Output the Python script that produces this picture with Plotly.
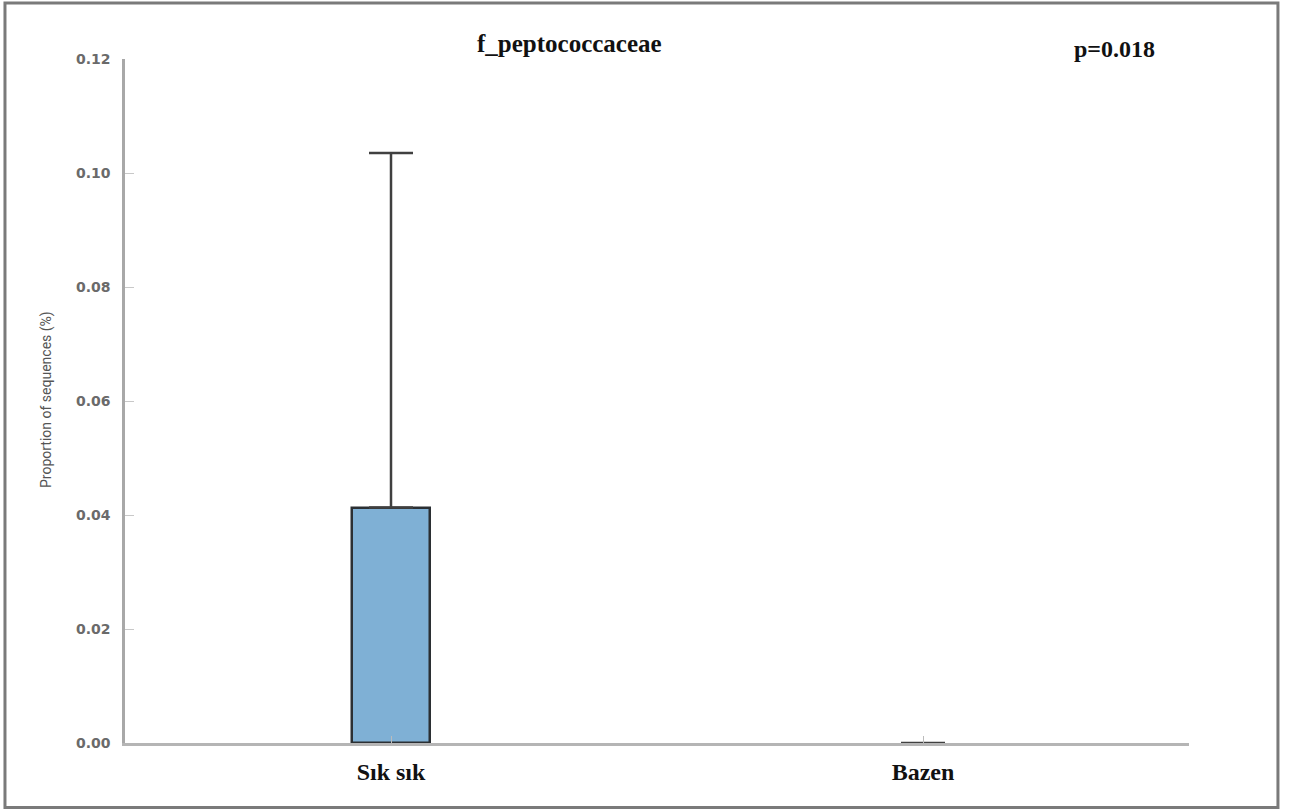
import plotly.graph_objects as go

# Group means and upper error for the family f_peptococcaceae
groups = ["Sık sık", "Bazen"]
proportions = [0.0413, 0.0]
upper_err = [0.0622, 0.0]
y_ticks = [0.00, 0.02, 0.04, 0.06, 0.08, 0.10, 0.12]
y_tick_text = ["0.00", "0.02", "0.04", "0.06", "0.08", "0.10", "0.12"]
title_text = "f_peptococcaceae"
p_text = "p=0.018"

fig = go.Figure()
fig.add_trace(go.Bar(
    x=[0, 1],
    y=proportions,
    width=0.148,
    marker=dict(color="#7fb0d5", line=dict(color="#2b2f33", width=[2.5, 0])),
    error_y=dict(type="data", symmetric=False, array=upper_err,
                 arrayminus=[0, 0], color="#404040", thickness=2.5, width=22),
    showlegend=False,
    hoverinfo="skip",
))

fig.update_layout(
    width=1290, height=810,
    margin=dict(l=125, r=101, t=59, b=67),
    paper_bgcolor="white", plot_bgcolor="white",
    bargap=0,
    xaxis=dict(
        range=[-0.5, 1.5],
        tickmode="array", tickvals=[0, 1], ticktext=groups,
        ticks="inside", ticklen=7, tickcolor="#bbbbbb", tickwidth=1,
        tickfont=dict(family="Liberation Serif", size=24, color="#111111", weight="bold"),
        ticklabelstandoff=5,
        showline=True, linecolor="#b5b5b5", linewidth=2.5,
        showgrid=False, zeroline=False, fixedrange=True,
    ),
    yaxis=dict(
        range=[0, 0.12],
        tickmode="array", tickvals=y_ticks, ticktext=y_tick_text,
        ticks="inside", ticklen=9, tickcolor="#c8c8c8", tickwidth=1,
        tickfont=dict(family="DejaVu Sans", size=14, color="#6a6a6a", weight="bold"),
        ticklabelstandoff=9,
        showline=True, linecolor="#a8a8a8", linewidth=2.5,
        showgrid=False, zeroline=False, fixedrange=True,
    ),
    shapes=[dict(
        type="rect", xref="paper", yref="paper",
        x0=-0.1128, x1=1.0836, y0=-0.0943, y1=1.0819,
        line=dict(color="#7a7a7a", width=3), fillcolor="rgba(0,0,0,0)",
    )],
    annotations=[
        dict(text=title_text, xref="paper", yref="paper",
             x=(569 - 125) / 1064, y=(743 - 43) / 684,
             showarrow=False, xanchor="center", yanchor="middle",
             font=dict(family="Liberation Serif", size=25, color="#111111", weight="bold")),
        dict(text=p_text, xref="paper", yref="paper",
             x=(1114 - 125) / 1064, y=(743 - 49) / 684,
             showarrow=False, xanchor="center", yanchor="middle",
             font=dict(family="Liberation Serif", size=24, color="#111111", weight="bold")),
        dict(text="Proportion of sequences (%)", xref="paper", yref="paper",
             x=(46 - 125) / 1064, y=(743 - 400) / 684,
             showarrow=False, textangle=-90, xanchor="center", yanchor="middle",
             font=dict(family="Liberation Sans Narrow, Roboto", size=14, color="#555555")),
    ],
)

fig.write_html("out.html")
